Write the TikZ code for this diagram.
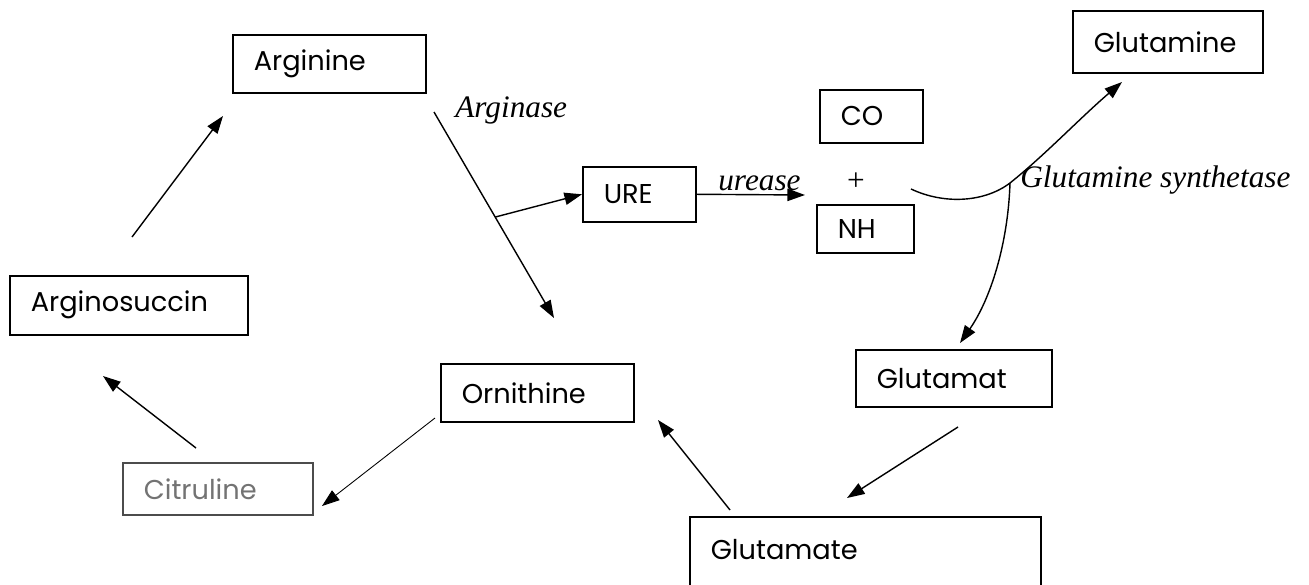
\documentclass[tikz,border=0pt]{standalone}
\usepackage{fontspec}
\setmainfont{Liberation Serif}
\newfontfamily\boxfam{Poppins}
\usetikzlibrary{arrows.meta}
\newcommand\boxfont{\boxfam\fontsize{15.5}{18}\selectfont}
\newcommand\labfont{\itshape\fontsize{17.8}{20}\selectfont}
\tikzset{
  box/.style={draw, line width=0.9pt, anchor=north west, inner xsep=0.42cm, inner ysep=0pt, align=left, font=\boxfont},
  enzyme/.style={anchor=base west, inner sep=0pt, font=\labfont},
  reac/.style={line width=0.8pt, -{Triangle[length=10pt,width=7pt]}}
}

\begin{document}
\begin{tikzpicture}[x=0.02cm, y=-0.02cm]
	\clip (0,0) rectangle (1309,585);
	% metabolites
	\node [box, text width=3.02cm, minimum height=1.16cm] (arginine) at (232,34) {Arginine};
	\node [box, text width=3.92cm, minimum height=1.18cm] (argsucc) at (9,275) {Arginosuccin};
	\node [box, draw=black!70, text=black!55, text width=2.96cm, minimum height=1.04cm] (citruline) at (122,462) {Citruline};
	\node [box, text width=3.02cm, minimum height=1.16cm] (ornithine) at (440,363) {Ornithine};
	\node [box, text width=1.42cm, minimum height=1.10cm] (ure) at (582,166) {URE};
	\node [box, text width=1.22cm, minimum height=1.06cm] (co) at (819,89) {CO};
	\node [font=\fontsize{17.8}{20}\selectfont] (plus) at (856,182) {+};
	\node [box, text width=1.10cm, minimum height=0.96cm] (nh) at (816,204) {NH};
	\node [box, text width=2.96cm, minimum height=1.24cm] (glutamine) at (1072,10) {Glutamine};
	\node [box, text width=3.08cm, minimum height=1.14cm] (glutamat) at (855,349) {Glutamat};
	\node [box, text width=6.18cm, text height=0.86cm, text depth=1.2cm] (glutamate) at (689,516) {Glutamate};
	% enzymes
	\node [enzyme] (arginase) at (455,117) {Arginase};
	\node [enzyme] (urease) at (718,190) {urease};
	\node [enzyme] (glnsyn) at (1020,187) {Glutamine synthetase};
	% free ends of the arrows
	\coordinate (succ-top) at (132,237);
	\coordinate (arg-low) at (223,116);
	\coordinate (arg-right) at (434,112);
	\coordinate (orn-up) at (554,318);
	\coordinate (ure-tip) at (805,195);
	\coordinate (gs-in) at (911,189);
	\coordinate (gs-fork) at (1010,183);
	\coordinate (gln-low) at (1122,82);
	\coordinate (glu-up) at (960,343);
	\coordinate (glu-low) at (958,427);
	\coordinate (glue-up) at (847,498);
	\coordinate (glue-out) at (730,510);
	\coordinate (orn-right) at (658,420);
	\coordinate (orn-out) at (435,418);
	\coordinate (cit-right) at (322,506);
	\coordinate (cit-up) at (196,448);
	\coordinate (succ-low) at (103,376);
	% cycle
	\draw [reac] (succ-top) -- (arg-low);
	\draw [reac] (arg-right) -- coordinate [pos=0.51] (split) (orn-up);
	\draw [reac] (split) -- (ure.west);
	\draw [reac] (ure.east) -- (ure-tip);
	\draw [reac] (gs-in) .. controls (945,205) and (985,202) .. (gs-fork) .. controls (1045,155) and (1080,118) .. (gln-low);
	\draw [reac] (gs-fork) .. controls (1008,245) and (990,300) .. (glu-up);
	\draw [reac] (glu-low) -- (glue-up);
	\draw [reac] (glue-out) -- (orn-right);
	\draw [reac, line width=0.5pt] (orn-out) -- (cit-right);
	\draw [reac] (cit-up) -- (succ-low);
\end{tikzpicture}
\end{document}
